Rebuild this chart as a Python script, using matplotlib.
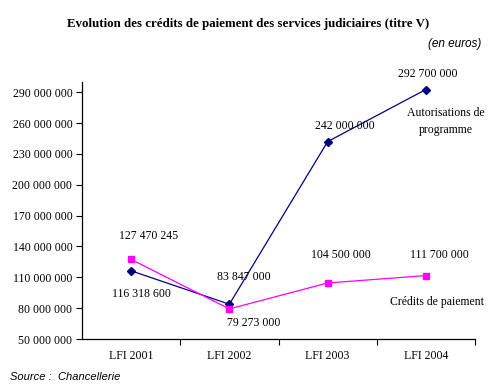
import matplotlib.pyplot as plt
from matplotlib.ticker import FixedLocator, FuncFormatter

# Données
annees = ["LFI 2001", "LFI 2002", "LFI 2003", "LFI 2004"]
autorisations = [116318600, 83847000, 242000000, 292700000]
credits = [127470245, 79273000, 104500000, 111700000]
y_ticks = list(range(50000000, 290000001, 30000000))

plt.rcParams['font.family'] = ['Liberation Serif', 'DejaVu Serif']

fig = plt.figure(figsize=(4.93, 3.92), dpi=100)
ax = fig.add_axes([82 / 493, 1 - 339 / 392, (475 - 82) / 493, (339 - 82) / 392])

x = list(range(len(annees)))
ax.plot(x, autorisations, color='#000080', lw=0.9, marker='D', ms=4.5,
        markerfacecolor='#000080', markeredgecolor='#000080')
ax.plot(x, credits, color='#FF00FF', lw=0.9, marker='s', ms=5,
        markerfacecolor='#FF00FF', markeredgecolor='#FF00FF')

ax.set_xlim(-0.5, len(annees) - 0.5)
ax.set_ylim(50000000, 300000000)
ax.set_yticks(y_ticks)
ax.yaxis.set_major_formatter(FuncFormatter(lambda v, p: f"{int(v):,}".replace(",", " ")))
ax.set_xticks(x)
ax.set_xticklabels(annees)
ax.xaxis.set_minor_locator(FixedLocator([i + 0.5 for i in x]))
ax.tick_params(axis='x', which='major', length=0, pad=8, labelsize=8.5)
ax.tick_params(axis='x', which='minor', length=4, width=0.8, direction='out')
ax.tick_params(axis='y', length=4, width=0.8, direction='out', labelsize=8.5, pad=3)
for s in ['top', 'right']:
    ax.spines[s].set_visible(False)
for s in ['left', 'bottom']:
    ax.spines[s].set_linewidth(0.9)

def etiquette(texte, i, v, dx, dy):
    ax.annotate(texte, xy=(i, v), xytext=(dx, dy), textcoords='offset pixels',
                ha='center', va='center', fontsize=8.5, linespacing=1.6)

def fmt(v):
    return f"{v:,}".replace(",", " ")

decal_ap = [(10, -23), (14, 27), (17, 16), (2, 16)]
decal_cp = [(17, 23), (24, -14), (13, 28), (14, 21)]
for i in x:
    etiquette(fmt(autorisations[i]), i, autorisations[i], *decal_ap[i])
    etiquette(fmt(credits[i]), i, credits[i], *decal_cp[i])

etiquette("Autorisations de\nprogramme", 3, autorisations[3], 20, -32)
etiquette("Crédits de paiement", 3, credits[3], 11, -26)

fig.text(248 / 493, 1 - 24 / 392, "Evolution des crédits de paiement des services judiciaires (titre V)",
         ha='center', va='center', fontsize=9.3, fontweight='bold')
fig.text(481 / 493, 1 - 44 / 392, "(en euros)", ha='right', va='center',
         fontsize=8.5, style='italic', family=['Liberation Sans', 'DejaVu Sans'])
fig.text(10 / 493, 1 - 377 / 392, "Source :  Chancellerie", ha='left', va='center',
         fontsize=8, style='italic', family=['Liberation Sans', 'DejaVu Sans'])

fig.savefig("out.png", dpi=100)
